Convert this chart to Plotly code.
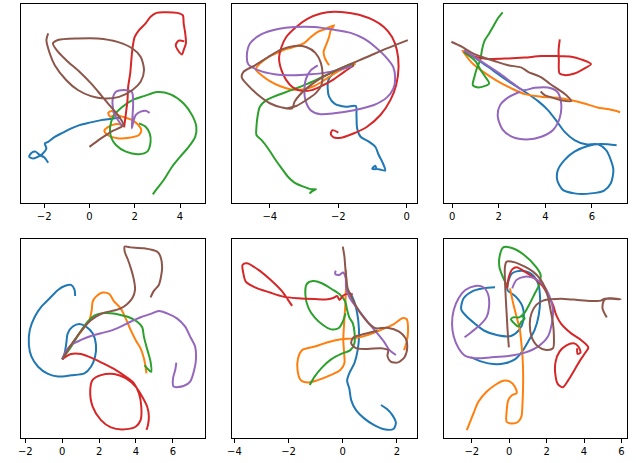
import plotly.graph_objects as go

# ---------------- data ----------------
P1_BLUE_X = [1.39,0.95,0.51,0,-0.44,-0.80,-1.17,-1.53,-1.82,-1.97,-1.90,-2.09,-2.26,-2.48,-2.66,-2.55,-2.38,-2.19,-2.00,-1.82]
P1_BLUE_Y = [-0.62,-0.68,-0.74,-0.85,-0.96,-1.10,-1.29,-1.47,-1.69,-1.76,-1.98,-2.23,-2.34,-2.42,-2.34,-2.17,-2.12,-2.27,-2.37,-2.61]
P1_ORANGE_X = [1.53,1.17,0.80,0.66,0.80,1.24,1.75,2.19,2.29,2.12,1.82,1.46,1.09,0.92,0.83,0.98,1.17]
P1_ORANGE_Y = [-0.96,-0.91,-1.06,-1.20,-1.39,-1.53,-1.51,-1.39,-1.18,-0.91,-0.71,-0.59,-0.52,-0.59,-0.42,-0.34,-0.47]
P1_GREEN_X = [2.19,2.48,2.66,2.70,2.55,2.19,1.61,1.17,0.95,0.91,1.09,1.46,1.90,2.41,2.99,3.58,4.16,4.53,4.72,4.67,4.38,4.01,3.65,3.28,2.99,2.80]
P1_GREEN_Y = [-0.88,-1.03,-1.32,-1.69,-2.12,-2.23,-2.12,-1.83,-1.47,-1.03,-0.52,-0.15,0.14,0.31,0.49,0.39,-0.01,-0.52,-1.03,-1.47,-1.91,-2.34,-2.78,-3.36,-3.73,-3.99]
P1_RED_X = [1.53,1.61,1.68,1.71,1.80,1.85,1.90,2.00,2.19,2.48,2.70,2.96,3.28,3.87,4.12,4.16,4.23,4.26,4.16,4.09,3.90,3.81,3.94,4.19]
P1_RED_Y = [-1.06,-0.45,0.14,0.72,1.31,1.89,2.40,2.91,3.20,3.50,3.79,3.96,3.99,3.96,3.86,3.50,3.06,2.62,2.33,2.14,2.33,2.55,2.74,2.71]
P1_PURPLE_X = [1.46,1.31,1.09,1.02,1.17,1.53,1.87,1.93,1.90,1.87,1.94,2.04,2.26,2.48,2.66]
P1_PURPLE_Y = [-1.03,-0.81,-0.45,0.14,0.50,0.58,0.50,-0.01,-0.59,-1.10,-0.81,-0.52,-0.37,-0.33,-0.42]
P1_BROWN_X = [0,0.51,0.95,1.50,1.31,0.88,0.51,0.07,-0.44,-0.95,-1.39,-1.61,-1.39,-0.51,0.36,1.24,1.90,2.26,2.41,2.26,1.90,1.31,0.66,0.07,-0.51,-1.02,-1.53,-1.75,-1.90,-1.82]
P1_BROWN_Y = [-1.91,-1.54,-1.25,-0.96,-0.59,-0.08,0.36,0.87,1.38,1.82,2.26,2.62,2.77,2.84,2.84,2.69,2.40,2.04,1.45,0.94,0.58,0.28,0.21,0.31,0.58,1.01,1.67,2.18,2.77,3.06]

P2_BLUE_X = [-1.54,-1.88,-2.17,-2.29,-2.31,-2.27,-2.10,-1.78,-1.49,-1.47,-1.45,-1.35,-1.11,-0.92,-0.82,-0.72,-0.63,-0.82,-1.01,-0.92,-0.89]
P2_BLUE_Y = [1.15,1.01,0.84,0.67,0.43,0.19,-0.02,-0.10,-0.08,-0.34,-0.73,-0.97,-1.11,-1.26,-1.50,-1.69,-1.95,-1.91,-1.90,-1.81,-1.88]
P2_ORANGE_X = [-1.49,-1.83,-2.12,-2.41,-2.70,-3.04,-3.37,-3.71,-4.00,-4.24,-4.41,-4.29,-4.05,-3.76,-3.52,-3.23,-2.99,-2.80,-2.60,-2.36,-2.12,-2.22,-2.27,-2.36,-2.43,-2.39,-2.27]
P2_ORANGE_Y = [1.15,1.01,0.86,0.67,0.50,0.40,0.40,0.50,0.64,0.81,0.98,1.15,1.33,1.47,1.57,1.65,1.75,1.92,2.07,2.16,2.26,2.12,1.92,1.68,1.49,1.30,1.10]
P2_GREEN_X = [-1.54,-1.93,-2.41,-2.89,-3.37,-3.76,-4.10,-4.29,-4.36,-4.39,-4.39,-4.24,-4.05,-3.86,-3.66,-3.47,-3.28,-3.04,-2.80,-2.65,-2.78,-2.84]
P2_GREEN_Y = [1.15,1.01,0.79,0.57,0.38,0.24,0.09,-0.10,-0.39,-0.68,-0.92,-1.07,-1.31,-1.60,-1.88,-2.13,-2.30,-2.41,-2.49,-2.49,-2.56,-2.62]
P2_RED_X = [-2.00,-2.17,-2.22,-2.14,-1.88,-1.54,-1.16,-0.77,-0.48,-0.31,-0.24,-0.29,-0.43,-0.67,-0.96,-1.35,-1.73,-2.12,-2.51,-2.89,-3.23,-3.52,-3.66,-3.73,-3.66,-3.52,-3.33,-3.07,-2.78,-2.49,-2.17,-1.83,-1.54]
P2_RED_Y = [-0.85,-0.78,-0.89,-0.99,-0.99,-0.87,-0.68,-0.34,0.09,0.53,1.06,1.54,1.92,2.21,2.40,2.55,2.62,2.65,2.60,2.45,2.21,1.92,1.63,1.30,0.96,0.67,0.46,0.36,0.38,0.50,0.67,0.91,1.10]
P2_PURPLE_X = [-1.59,-2.02,-2.41,-2.80,-3.28,-3.86,-4.34,-4.63,-4.67,-4.58,-4.24,-3.76,-3.28,-2.70,-2.12,-1.64,-1.25,-0.92,-0.63,-0.40,-0.34,-0.39,-0.58,-0.96,-1.54,-2.12,-2.55,-2.81,-2.96,-2.99,-2.94,-2.80,-2.60]
P2_PURPLE_Y = [1.07,0.96,0.88,0.84,0.81,0.84,0.96,1.13,1.39,1.73,2.00,2.15,2.21,2.21,2.13,2.04,1.87,1.63,1.36,1.06,0.72,0.43,0.17,-0.05,-0.20,-0.29,-0.31,-0.20,0.09,0.43,0.72,0.96,1.10]
P2_BROWN_X = [0.03,-0.58,-1.16,-1.73,-2.22,-2.60,-2.89,-3.13,-3.28,-3.35,-3.66,-4.00,-4.34,-4.63,-4.82,-4.77,-4.43,-4.05,-3.66,-3.28,-2.94,-2.67,-2.51,-2.46,-2.49,-2.65,-2.94,-3.23,-3.52]
P2_BROWN_Y = [1.83,1.59,1.34,1.10,0.88,0.67,0.46,0.24,0.04,-0.15,-0.12,0.00,0.24,0.51,0.75,0.91,1.10,1.34,1.56,1.66,1.63,1.46,1.17,0.86,0.53,0.30,0.09,-0.08,-0.15]

P3_BLUE_X = [0.57,1.13,1.70,2.41,3.12,3.69,4.11,4.47,4.82,5.25,5.74,6.24,6.60,6.81,6.92,6.81,6.52,5.96,5.25,4.75,4.51,4.54,4.82,5.25,5.82,6.38,7.06]
P3_BLUE_Y = [2.19,1.84,1.44,0.94,0.49,0.09,-0.29,-0.74,-1.21,-1.57,-1.75,-1.74,-1.99,-2.42,-2.84,-3.41,-3.72,-3.84,-3.84,-3.69,-3.27,-2.84,-2.42,-2.06,-1.82,-1.74,-1.79]
P3_ORANGE_X = [0.43,0.85,1.28,1.84,2.55,3.12,3.83,4.54,5.11,5.67,6.24,6.74,7.21]
P3_ORANGE_Y = [2.26,1.72,1.38,1.01,0.63,0.39,0.28,0.23,0.13,-0.01,-0.18,-0.26,-0.38]
P3_GREEN_X = [2.17,1.96,1.77,1.59,1.39,1.28,1.21,1.06,0.96,0.89,1.13,1.59,1.42,1.21,1.02,0.78,0.50]
P3_GREEN_Y = [3.87,3.61,3.28,2.97,2.66,2.26,1.84,1.48,1.13,0.77,0.67,0.84,1.13,1.44,1.77,1.98,2.19]
P3_RED_X = [0.57,0.99,1.56,2.41,3.12,3.83,4.54,5.11,5.53,5.96,5.67,5.25,4.82,4.61,4.58,4.57,4.62]
P3_RED_Y = [2.19,1.98,1.89,1.91,1.95,2.01,2.01,1.98,1.87,1.67,1.48,1.27,1.20,1.27,1.84,2.26,2.72]
P3_PURPLE_X = [0.50,0.99,1.56,2.13,2.62,3.05,3.55,4.11,4.51,4.68,4.61,4.33,3.83,3.19,2.58,2.16,1.96,2.06,2.41,2.91]
P3_PURPLE_Y = [2.26,1.95,1.58,1.20,0.84,0.56,0.66,0.67,0.49,-0.01,-0.65,-1.14,-1.43,-1.54,-1.43,-1.11,-0.57,-0.08,0.25,0.49]
P3_BROWN_X = [-0.03,0.43,0.85,1.35,1.84,2.41,2.98,3.26,3.83,4.18,4.54,4.89,5.11,4.68,4.26,3.97,3.80]
P3_BROWN_Y = [2.62,2.40,2.15,1.95,1.79,1.62,1.52,1.34,1.10,0.84,0.60,0.35,0.09,0.13,0.25,0.35,0.50]

P4_BLUE_X = [0,0.13,0.22,0.30,0.57,0.93,1.29,1.65,1.83,1.78,1.56,1.20,0.48,-0.23,-0.77,-1.31,-1.67,-1.81,-1.76,-1.49,-1.13,-0.68,-0.23,0.13,0.48,0.66,0.70]
P4_BLUE_Y = [-1.11,-0.79,-0.25,0.29,0.65,0.79,0.65,0.29,-0.34,-0.97,-1.51,-1.87,-1.97,-2.04,-1.90,-1.51,-0.97,-0.34,0.47,1.18,1.72,2.17,2.62,2.83,2.89,2.65,2.29]
P4_ORANGE_X = [0,0.48,1.02,1.47,1.60,1.65,1.83,2.19,2.55,2.82,3.17,3.44,3.71,3.98,4.25,4.43,4.52,4.57]
P4_ORANGE_Y = [-1.11,-0.34,0.38,1.00,1.54,1.99,2.26,2.48,2.40,1.99,1.63,1.09,0.47,-0.07,-0.52,-1.05,-1.51,-1.87]
P4_GREEN_X = [0,0.48,0.93,1.38,1.74,2.10,2.64,3.17,3.62,4.07,4.34,4.43,4.57,4.70,4.79,4.83,4.61,4.47]
P4_GREEN_Y = [-1.11,-0.43,0.29,0.91,1.24,1.36,1.36,1.27,1.15,0.91,0.61,0.11,-0.43,-0.88,-1.24,-1.78,-1.60,-1.42]
P4_RED_X = [0,0.48,1.02,1.65,2.28,2.91,3.44,3.89,4.16,4.29,4.25,3.98,3.26,2.64,2.10,1.65,1.52,1.65,2.10,2.82,3.44,3.98,4.34,4.61,4.70,4.65,4.57]
P4_RED_Y = [-1.11,-0.83,-0.83,-1.06,-1.36,-1.69,-2.04,-2.40,-2.94,-3.66,-4.38,-4.74,-4.88,-4.77,-4.38,-3.66,-2.76,-2.22,-1.96,-1.90,-2.13,-2.58,-3.12,-3.66,-4.20,-4.65,-4.91]
P4_PURPLE_X = [0,0.22,0.48,1.02,1.56,2.10,2.64,3.17,3.71,4.25,4.79,5.24,5.69,6.22,6.67,6.94,7.21,7.26,7.16,6.94,6.58,6.04,6.01,6.13,6.19]
P4_PURPLE_Y = [-1.11,-0.65,-0.34,-0.07,0.14,0.29,0.43,0.65,0.91,1.15,1.33,1.49,1.36,1.09,0.65,0.11,-0.43,-1.05,-1.69,-2.31,-2.55,-2.58,-2.13,-1.69,-1.29]
P4_BROWN_X = [0,0.48,0.93,1.38,1.83,2.28,2.82,3.17,3.53,3.80,3.95,3.89,3.75,3.57,3.39,3.39,3.71,4.43,5.15,5.33,5.42,5.36,5.24,4.97,4.79]
P4_BROWN_Y = [-1.11,-0.34,0.29,0.83,1.18,1.40,1.51,1.63,1.87,2.17,2.62,3.16,3.70,4.23,4.68,4.95,4.91,4.86,4.68,4.41,3.87,3.34,2.89,2.57,2.22]

P5_BLUE_X = [0.18,0.35,0.48,0.57,0.60,0.55,0.43,0.24,0.16,0.24,0.31,0.49,0.79,1.16,1.53,1.87,1.96,1.83,1.63,1.41]
P5_BLUE_Y = [1.78,1.54,1.17,0.68,0.07,-0.42,-0.90,-1.27,-1.54,-1.82,-2.25,-2.62,-2.92,-3.17,-3.32,-3.31,-3.08,-2.80,-2.58,-2.43]
P5_ORANGE_X = [0.11,0.13,0.11,0.09,0.05,0.02,0.05,0.06,-0.09,-0.43,-0.92,-1.28,-1.55,-1.67,-1.65,-1.50,-1.04,-0.55,-0.06,0.43,0.92,1.41,1.89,2.20,2.36,2.41,2.36,2.26]
P5_ORANGE_Y = [2.52,2.15,1.66,1.17,0.56,-0.05,-0.54,-0.90,-1.15,-1.33,-1.52,-1.61,-1.52,-1.15,-0.72,-0.42,-0.29,-0.13,-0.02,0.01,0.13,0.32,0.53,0.75,0.71,0.32,-0.11,-0.42]
P5_GREEN_X = [-1.22,-1.04,-0.77,-0.43,-0.06,0.28,0.43,0.43,0.37,0.24,0.16,0.09,-0.09,-0.40,-0.77,-1.10,-1.33,-1.38,-1.26,-1.04,-0.73,-0.43,-0.16,0.00,0.10]
P5_GREEN_Y = [-1.70,-1.39,-1.06,-0.76,-0.56,-0.42,-0.17,0.26,0.56,0.78,1.05,1.36,1.60,1.81,2.03,2.11,2.00,1.60,1.11,0.78,0.50,0.34,0.38,0.62,0.93]
P5_RED_X = [-1.87,-2.02,-2.26,-2.69,-3.14,-3.54,-3.70,-3.67,-3.58,-3.24,-2.69,-2.20,-1.65,-1.04,-0.55,-0.33,-0.21,-0.12,0.00,0.12,0.37]
P5_RED_Y = [1.20,1.42,1.76,2.18,2.54,2.76,2.70,2.40,2.09,1.88,1.69,1.54,1.48,1.45,1.44,1.50,1.56,1.42,1.56,1.63,1.63]
P5_PURPLE_X = [-0.26,-0.28,-0.13,0.01,0.11,0.12,0.23,0.48,0.72,0.97,1.27,1.52,1.70,1.96]
P5_PURPLE_Y = [2.49,2.37,2.33,2.42,2.21,1.88,1.54,1.17,0.87,0.56,0.20,-0.11,-0.39,-0.60]
P5_BROWN_X = [0,0.06,0.09,0.13,0.18,0.31,0.49,0.73,0.98,1.22,1.65,2.08,2.32,2.38,2.29,2.04,1.77,1.65,1.67,1.41,0.92,0.49,0.31,0.40,0.79,1.28]
P5_BROWN_Y = [3.37,3.01,2.64,2.21,1.85,1.54,1.20,0.83,0.54,0.38,0.40,0.26,0.01,-0.29,-0.66,-0.87,-0.84,-0.64,-0.42,-0.35,-0.38,-0.35,-0.17,0.05,0.17,0.29]

P6_BLUE_X = [-2.04,-1.47,-0.85,-0.23,0.30,0.69,1.01,1.36,1.58,1.65,1.54,1.19,0.65,0.16,-0.05,-0.09,0.35,0.71,0.76,0.53,0.09,-0.62,-1.33,-1.82,-2.30,-2.57,-2.44,-2.00,-1.38,-0.76]
P6_BLUE_Y = [-0.99,-1.22,-1.35,-1.31,-1.10,-0.69,-0.16,0.46,1.26,2.14,2.94,3.43,3.61,3.47,3.03,2.58,2.23,1.70,0.99,0.46,0.14,0.18,0.42,0.78,1.20,1.56,2.14,2.50,2.67,2.73]
P6_ORANGE_X = [0.04,0.21,0.39,0.57,0.65,0.71,0.74,0.74,0.71,0.65,0.48,0.12,-0.14,-0.14,-0.05,0.16,0.39,0.30,0.04,-0.32,-0.76,-1.20,-1.65,-1.91,-2.09,-2.27]
P6_ORANGE_Y = [2.67,1.88,1.17,0.46,-0.25,-0.96,-1.66,-2.55,-3.43,-4.14,-4.41,-4.50,-4.41,-3.88,-3.26,-2.99,-2.90,-2.55,-2.28,-2.23,-2.46,-2.81,-3.35,-3.96,-4.41,-4.85]
P6_GREEN_X = [-0.09,-0.35,-0.53,-0.50,-0.32,0.18,0.80,1.42,1.68,1.59,1.33,1.06,0.80,0.53,0.21,0.09,0.30,0.48,0.65,0.83,0.65]
P6_GREEN_Y = [2.76,3.29,3.82,4.44,4.85,4.80,4.44,3.82,3.38,2.85,2.32,1.79,1.35,1.13,1.13,1.03,0.78,0.64,0.90,1.08,1.20]
P6_RED_X = [-0.12,-0.02,0.16,0.39,0.83,1.36,1.81,2.11,2.34,2.51,2.78,3.31,3.84,4.23,4.02,3.75,3.49,3.17,2.87,2.60,2.46,2.48,2.69,3.04,3.45,3.70,3.81,3.66,3.63]
P6_RED_Y = [2.67,3.29,3.68,3.79,3.56,3.20,2.76,2.23,1.79,1.26,0.78,0.28,-0.07,-0.46,-0.81,-1.22,-1.66,-2.19,-2.58,-2.41,-1.84,-1.22,-0.69,-0.37,-0.25,-0.42,-0.74,-0.81,-0.51]
P6_PURPLE_X = [-2.39,-2.00,-1.56,-1.20,-1.08,-1.12,-1.38,-1.82,-2.35,-2.71,-2.97,-3.06,-2.97,-2.71,-2.35,-1.82,-0.94,-0.05,0.83,1.54,2.07,2.28,2.34,2.16,1.81,1.36,0.83,0.39,0.16]
P6_PURPLE_Y = [0.07,0.37,0.73,1.17,1.70,2.32,2.73,2.80,2.58,2.14,1.52,0.81,0.11,-0.51,-0.92,-1.04,-0.99,-0.92,-0.74,-0.42,0.11,0.81,1.52,2.23,2.85,3.20,3.29,3.12,2.67]
P6_BROWN_X = [-0.02,-0.09,-0.14,-0.19,-0.23,-0.23,-0.14,0.30,0.83,1.27,1.63,1.89,2.07,2.21,2.34,2.39,2.34,1.98,1.54,1.19,1.10,1.19,1.45,1.81,2.25,2.96,3.66,4.37,4.90,5.12,5.96,5.43,5.08,4.99,5.22]
P6_BROWN_Y = [-0.46,0.46,1.35,2.23,3.12,3.82,4.09,4.05,3.82,3.56,3.20,2.76,2.23,1.52,0.81,0.11,-0.51,-0.60,-0.42,0.11,0.81,1.35,1.79,2.02,2.09,2.11,2.05,2.00,2.02,2.12,2.09,2.14,2.05,1.61,1.13]

# axis ranges (x in data units; y has no labels)
X_RANGES = [(-3.04, 5.09), (-5.09, 0.29), (-0.355, 7.52), (-2.26, 7.73), (-4.07, 2.73), (-3.50, 6.32)]
Y_RANGES = [(-4.37, 4.37), (-2.89, 2.89), (-4.25, 4.25), (-5.36, 5.36), (-3.65, 3.65), (-5.29, 5.29)]

COLORS = ["#1f77b4", "#ff7f0e", "#2ca02c", "#d62728", "#9467bd", "#8c564b"]

PANELS = [
    [(P1_BLUE_X, P1_BLUE_Y), (P1_ORANGE_X, P1_ORANGE_Y), (P1_GREEN_X, P1_GREEN_Y), (P1_RED_X, P1_RED_Y), (P1_PURPLE_X, P1_PURPLE_Y), (P1_BROWN_X, P1_BROWN_Y)],
    [(P2_BLUE_X, P2_BLUE_Y), (P2_ORANGE_X, P2_ORANGE_Y), (P2_GREEN_X, P2_GREEN_Y), (P2_RED_X, P2_RED_Y), (P2_PURPLE_X, P2_PURPLE_Y), (P2_BROWN_X, P2_BROWN_Y)],
    [(P3_BLUE_X, P3_BLUE_Y), (P3_ORANGE_X, P3_ORANGE_Y), (P3_GREEN_X, P3_GREEN_Y), (P3_RED_X, P3_RED_Y), (P3_PURPLE_X, P3_PURPLE_Y), (P3_BROWN_X, P3_BROWN_Y)],
    [(P4_BLUE_X, P4_BLUE_Y), (P4_ORANGE_X, P4_ORANGE_Y), (P4_GREEN_X, P4_GREEN_Y), (P4_RED_X, P4_RED_Y), (P4_PURPLE_X, P4_PURPLE_Y), (P4_BROWN_X, P4_BROWN_Y)],
    [(P5_BLUE_X, P5_BLUE_Y), (P5_ORANGE_X, P5_ORANGE_Y), (P5_GREEN_X, P5_GREEN_Y), (P5_RED_X, P5_RED_Y), (P5_PURPLE_X, P5_PURPLE_Y), (P5_BROWN_X, P5_BROWN_Y)],
    [(P6_BLUE_X, P6_BLUE_Y), (P6_ORANGE_X, P6_ORANGE_Y), (P6_GREEN_X, P6_GREEN_Y), (P6_RED_X, P6_RED_Y), (P6_PURPLE_X, P6_PURPLE_Y), (P6_BROWN_X, P6_BROWN_Y)],
]

# ---------------- layout ----------------
W, H = 636, 463
COL_PX = [(15.7, 201.3), (229.3, 415.0), (442.3, 627.3)]
ROW_PX = [(3.5, 203.0), (239.0, 438.3)]

fig = go.Figure()
layout = dict(width=W, height=H, margin=dict(l=0, r=0, t=0, b=0),
              paper_bgcolor="white", plot_bgcolor="white", showlegend=False,
              hovermode=False)

for i, lines in enumerate(PANELS):
    r, c = divmod(i, 3)
    xa = "x" if i == 0 else f"x{i+1}"
    ya = "y" if i == 0 else f"y{i+1}"
    for (xs, ys), col in zip(lines, COLORS):
        fig.add_trace(go.Scatter(x=xs, y=ys, mode="lines", xaxis=xa, yaxis=ya,
                                 line=dict(color=col, width=2, shape="spline", smoothing=0.8)))
    x0, x1 = COL_PX[c]
    y0, y1 = ROW_PX[r]
    xkey = "xaxis" if i == 0 else f"xaxis{i+1}"
    ykey = "yaxis" if i == 0 else f"yaxis{i+1}"
    layout[xkey] = dict(domain=[x0 / W, x1 / W], anchor=ya, range=list(X_RANGES[i]),
                        dtick=2, tick0=0, showgrid=False, zeroline=False,
                        showline=True, mirror=True, linecolor="black", linewidth=1,
                        ticks="outside", ticklen=4, tickwidth=1, tickcolor="black",
                        tickfont=dict(family="DejaVu Sans", size=10, color="black"))
    layout[ykey] = dict(domain=[1 - y1 / H, 1 - y0 / H], anchor=xa, range=list(Y_RANGES[i]),
                        showgrid=False, zeroline=False, showticklabels=False, ticks="",
                        showline=True, mirror=True, linecolor="black", linewidth=1)

fig.update_layout(**layout)
fig.write_html("out.html", config={"displayModeBar": False})
